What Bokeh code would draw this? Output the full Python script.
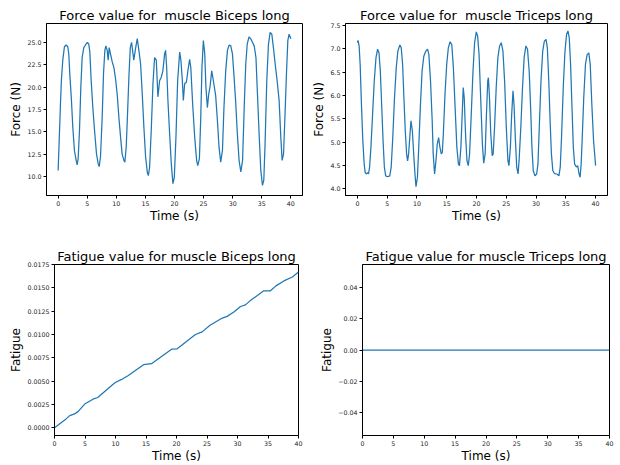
from bokeh.plotting import figure
from bokeh.layouts import column, row
from bokeh.models import Range1d, FixedTicker
from bokeh.embed import file_html
from bokeh.resources import INLINE

# ---------------- data ----------------
biceps_t = [0, 0.4, 0.57, 0.8, 1.08, 1.37, 1.66, 1.83, 2.0, 2.29,
            2.52, 2.8, 3.1, 3.27, 3.44, 3.67, 3.9, 4.13, 4.41, 4.7,
            5.04, 5.27, 5.45, 5.68, 5.96, 6.3, 6.6, 6.89, 7.06, 7.28,
            7.57, 7.8, 8.03, 8.2, 8.43, 8.6, 8.77, 9.0, 9.3, 9.58,
            9.87, 10.15, 10.44, 10.73, 11.0, 11.3, 11.47, 11.7, 11.93, 12.16,
            12.4, 12.62, 13.0, 13.3, 13.6, 13.88, 14.17, 14.46, 14.74, 15.03,
            15.32, 15.5, 15.72, 16.0, 16.3, 16.58, 16.87, 17.15, 17.44, 17.73,
            18.0, 18.3, 18.47, 18.65, 18.87, 19.16, 19.45, 19.73, 19.97, 20.25,
            20.54, 20.89, 21.1, 21.35, 21.52, 21.75, 22.04, 22.3, 22.6, 22.8,
            23.12, 23.47, 23.8, 24.0, 24.28, 24.5, 24.72, 24.96, 25.2, 25.4,
            25.65, 25.88, 26.1, 26.4, 26.68, 27.08, 27.37, 27.65, 27.94, 28.24,
            28.5, 28.8, 29.1, 29.4, 29.67, 29.96, 30.2, 30.5, 30.8, 31.1,
            31.4, 31.7, 32.0, 32.25, 32.5, 32.8, 33.1, 33.4, 33.7, 34.0,
            34.26, 34.54, 34.83, 35.12, 35.35, 35.57, 35.86, 36.15, 36.44, 36.73,
            37.0, 37.3, 37.64, 37.98, 38.27, 38.5, 38.74, 38.96, 39.26, 39.48,
            39.7, 40.0]
biceps_force = [10.67, 18.1, 20.9, 23.0, 24.5, 24.7, 24.5, 23.7, 21.5, 18.5,
                15.5, 12.9, 11.8, 11.3, 12.0, 15.1, 20.0, 23.3, 24.4, 24.7,
                25.0, 24.8, 23.9, 20.7, 17.7, 14.8, 12.5, 11.4, 11.1, 12.2,
                16.6, 21.5, 24.1, 24.6, 24.1, 23.0, 24.4, 23.7, 22.8, 22.2,
                20.9, 19.2, 16.6, 14.4, 12.5, 11.8, 11.6, 13.3, 17.0, 21.1,
                24.4, 25.0, 23.0, 24.3, 25.4, 24.1, 22.6, 19.2, 15.5, 12.2,
                10.5, 10.1, 11.0, 15.1, 20.4, 23.3, 23.0, 18.9, 20.7, 21.1,
                21.8, 23.7, 24.1, 22.2, 18.5, 14.8, 11.4, 9.2, 9.9, 14.4,
                20.7, 23.9, 23.0, 20.7, 18.5, 20.4, 20.5, 21.8, 23.1, 22.2,
                18.1, 14.4, 11.8, 11.2, 12.0, 16.3, 22.2, 25.2, 23.7, 20.0,
                17.7, 19.2, 20.0, 21.8, 20.7, 19.0, 16.3, 13.3, 11.6, 12.9,
                17.7, 21.8, 24.1, 24.7, 24.6, 23.7, 21.5, 18.5, 14.8, 11.8,
                10.5, 11.8, 18.1, 22.6, 24.8, 25.6, 25.4, 25.0, 24.6, 23.3,
                19.2, 14.8, 10.7, 9.0, 9.6, 13.7, 20.7, 24.8, 26.1, 25.9,
                24.4, 22.6, 20.7, 18.5, 14.4, 11.8, 12.5, 16.3, 21.8, 25.2,
                25.9, 25.4]

triceps_t = [0, 0.1, 0.29, 0.46, 0.68, 0.91, 1.14, 1.31, 1.53, 1.7,
             1.87, 2.04, 2.27, 2.55, 2.83, 3.12, 3.39, 3.63, 3.85, 4.07,
             4.31, 4.53, 4.75, 5.09, 5.43, 5.67, 5.94, 6.23, 6.52, 6.79,
             7.13, 7.36, 7.59, 7.81, 8.04, 8.26, 8.43, 8.6, 8.83, 9.0,
             9.23, 9.45, 9.67, 9.84, 10.08, 10.3, 10.59, 10.86, 11.15, 11.49,
             11.78, 12.0, 12.28, 12.56, 12.73, 12.96, 13.19, 13.41, 13.64, 13.86,
             14.09, 14.26, 14.43, 14.71, 15.0, 15.27, 15.56, 15.85, 16.12, 16.41,
             16.7, 16.97, 17.14, 17.38, 17.6, 17.77, 17.94, 18.16, 18.4, 18.62,
             18.84, 19.12, 19.41, 19.68, 19.97, 20.19, 20.43, 20.7, 20.99, 21.21,
             21.45, 21.67, 21.89, 22.0, 22.18, 22.4, 22.64, 22.8, 23.03, 23.31,
             23.59, 23.88, 24.16, 24.44, 24.72, 25.01, 25.28, 25.45, 25.69, 25.91,
             26.13, 26.3, 26.54, 26.76, 26.98, 27.15, 27.44, 27.73, 28.0, 28.29,
             28.57, 28.85, 29.09, 29.31, 29.53, 29.82, 30.1, 30.32, 30.54, 30.83,
             31.12, 31.39, 31.68, 31.9, 32.14, 32.36, 32.58, 32.82, 33.09, 33.5,
             33.84, 34.06, 34.28, 34.57, 34.86, 35.13, 35.36, 35.58, 35.8, 36.04,
             36.26, 36.48, 36.77, 36.99, 37.23, 37.4, 37.57, 37.74, 38.01, 38.3,
             38.59, 38.86, 39.1, 39.37, 39.66, 40.0]
triceps_force = [7.13, 7.18, 7.06, 6.67, 5.81, 5.03, 4.53, 4.35, 4.32, 4.35,
                 4.32, 4.46, 4.89, 5.6, 6.31, 6.81, 6.99, 6.91, 6.52, 5.81,
                 5.03, 4.46, 4.28, 4.26, 4.28, 4.46, 5.1, 5.95, 6.59, 6.95,
                 7.08, 7.02, 6.67, 5.95, 5.24, 4.75, 4.6, 4.75, 5.17, 5.46,
                 5.24, 4.75, 4.32, 4.05, 4.25, 4.89, 5.81, 6.52, 6.84, 6.95,
                 6.99, 6.88, 6.31, 5.46, 4.75, 4.32, 4.6, 4.96, 5.1, 4.89,
                 4.75, 4.78, 5.17, 6.03, 6.67, 7.02, 7.15, 7.09, 6.59, 5.74,
                 4.89, 4.53, 4.5, 4.89, 5.6, 6.17, 5.95, 5.17, 4.6, 4.5,
                 4.75, 5.6, 6.52, 7.13, 7.36, 7.27, 6.88, 5.95, 4.96, 4.55,
                 4.75, 5.6, 6.31, 6.38, 5.95, 5.17, 4.71, 4.75, 5.31, 6.17,
                 6.81, 7.06, 7.13, 6.95, 6.31, 5.31, 4.6, 4.5, 4.89, 5.6,
                 6.1, 5.81, 5.03, 4.46, 4.32, 4.6, 5.31, 6.17, 6.81, 7.06,
                 6.99, 6.52, 5.74, 4.89, 4.39, 4.28, 4.32, 4.53, 5.31, 6.31,
                 6.95, 7.16, 7.2, 7.02, 6.31, 5.46, 4.75, 4.39, 4.33, 4.32,
                 4.28, 4.46, 5.1, 6.17, 6.95, 7.31, 7.38, 7.23, 6.67, 5.74,
                 4.89, 4.53, 4.47, 4.5, 4.32, 4.25, 4.53, 5.03, 5.95, 6.67,
                 6.88, 6.91, 6.67, 5.81, 5.03, 4.5]

fat_biceps_t = [0, 1.9, 2.5, 3.3, 3.85, 4.95, 6.3, 7.1, 7.7, 9.9, 11.0, 12.1, 14.6, 15.9, 16.8, 19.2, 20.05,
                20.9, 23.1, 24.2, 25.5, 27.5, 28.3, 29.4, 30.5, 31.3, 32.1, 34.3, 35.4, 36.3, 37.6, 39.0, 40.0]
fat_biceps = [0, 0.00095, 0.0013, 0.00148, 0.00173, 0.00254, 0.00306, 0.00324, 0.00359, 0.00482, 0.00518,
              0.0056, 0.00676, 0.00687, 0.00729, 0.00842, 0.00845, 0.00887, 0.0100, 0.01028, 0.01099, 0.01176,
              0.01194, 0.0124, 0.0130, 0.01317, 0.01363, 0.01468, 0.01468, 0.01521, 0.01574, 0.01616, 0.01669]

fat_triceps_t = [0, 10, 20, 30, 40]
fat_triceps = [0, 0, 0, 0, 0]

time_ticks = [0, 5, 10, 15, 20, 25, 30, 35, 40]
biceps_force_ticks = [10.0, 12.5, 15.0, 17.5, 20.0, 22.5, 25.0]
biceps_force_labels = ["10.0", "12.5", "15.0", "17.5", "20.0", "22.5", "25.0"]
triceps_force_ticks = [4.0, 4.5, 5.0, 5.5, 6.0, 6.5, 7.0, 7.5]
triceps_force_labels = ["4.0", "4.5", "5.0", "5.5", "6.0", "6.5", "7.0", "7.5"]
fat_biceps_ticks = [0.0, 0.0025, 0.005, 0.0075, 0.01, 0.0125, 0.015, 0.0175]
fat_biceps_labels = ["0.0000", "0.0025", "0.0050", "0.0075", "0.0100", "0.0125", "0.0150", "0.0175"]
fat_triceps_ticks = [-0.04, -0.02, 0.0, 0.02, 0.04]
fat_triceps_labels = ["\u22120.04", "\u22120.02", "0.00", "0.02", "0.04"]

FONT = "DejaVu Sans"
LINE = "#1f77b4"


def make(title, w, h, bl, br, bt, bb, xr, yr, yticks, ylabels, ylabel):
    p = figure(width=w, height=h, output_backend="svg", toolbar_location=None,
               x_range=Range1d(*xr), y_range=Range1d(*yr),
               min_border_left=bl, min_border_right=br, min_border_top=bt, min_border_bottom=bb)
    p.title.text = title
    p.title.text_font = FONT
    p.title.text_font_size = "13px"
    p.title.text_font_style = "normal"
    p.title.text_color = "black"
    p.title.align = "center"
    p.title.standoff = 2
    p.xgrid.visible = False
    p.ygrid.visible = False
    p.outline_line_color = "black"
    p.outline_line_alpha = 1
    p.outline_line_width = 1
    p.background_fill_color = "white"
    p.border_fill_color = "white"
    for ax in (p.xaxis[0], p.yaxis[0]):
        ax.axis_line_color = "black"
        ax.major_tick_line_color = "black"
        ax.major_tick_out = 3
        ax.major_tick_in = 0
        ax.minor_tick_out = 0
        ax.minor_tick_in = 0
        ax.major_label_text_font = FONT
        ax.major_label_text_font_size = "6.3px"
        ax.major_label_text_color = "#222222"
        ax.major_label_standoff = 2
        ax.axis_label_text_font = FONT
        ax.axis_label_text_font_size = "12px"
        ax.axis_label_text_font_style = "normal"
        ax.axis_label_text_color = "black"
    p.xaxis.axis_label_standoff = 0
    p.yaxis.axis_label_standoff = 1
    p.xaxis.ticker = FixedTicker(ticks=time_ticks)
    p.xaxis.major_label_overrides = {t: str(t) for t in time_ticks}
    p.yaxis.ticker = FixedTicker(ticks=yticks)
    p.yaxis.major_label_overrides = dict(zip(yticks, ylabels))
    p.xaxis.axis_label = "Time (s)"
    p.yaxis.axis_label = ylabel
    return p


p1 = make("Force value for \u00a0muscle Biceps long", 306, 230, 46, 4, 23, 35,
          (-2, 42), (7.87, 27.1), biceps_force_ticks, biceps_force_labels, "Force (N)")
p1.line(biceps_t, biceps_force, line_color=LINE, line_width=1.25)

p2 = make("Force value for \u00a0muscle Triceps long", 314, 230, 39, 13, 23, 35,
          (-2, 42), (3.86, 7.54), triceps_force_ticks, triceps_force_labels, "Force (N)")
p2.line(triceps_t, triceps_force, line_color=LINE, line_width=1.25)

p3 = make("Fatigue value for muscle Biceps long", 306, 235, 54, 8, 34, 27,
          (0, 40), (-0.00083, 0.0175), fat_biceps_ticks, fat_biceps_labels, "Fatigue")
p3.line(fat_biceps_t, fat_biceps, line_color=LINE, line_width=1.25)

p4 = make("Fatigue value for muscle Triceps long", 314, 235, 56, 11, 34, 26,
          (0, 40), (-0.055, 0.055), fat_triceps_ticks, fat_triceps_labels, "Fatigue")
p4.line(fat_triceps_t, fat_triceps, line_color=LINE, line_width=1.25)

layout = column(row(p1, p2, spacing=0), row(p3, p4, spacing=0), spacing=0)

open("out.html", "w").write(file_html(layout, INLINE))
